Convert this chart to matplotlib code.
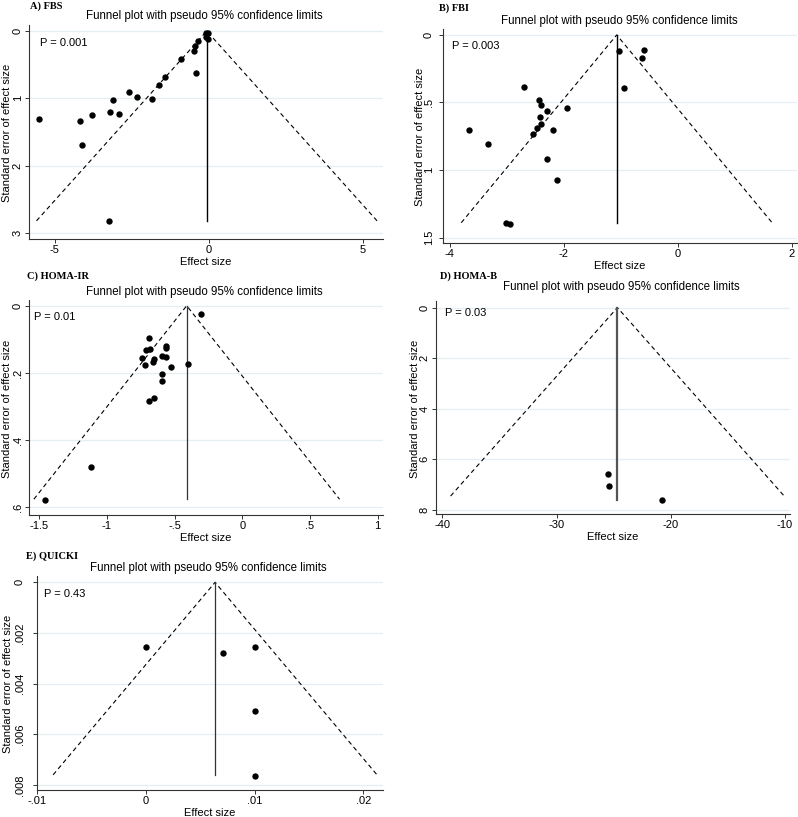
import matplotlib
matplotlib.use("Agg")
import matplotlib.pyplot as plt
import numpy as np

plt.rcParams['font.family'] = ['Liberation Sans', 'DejaVu Sans']

# ---------------- data ----------------
fbs_es = [-5.50, -4.17, -4.12, -3.78, -3.25, -3.20, -3.10, -2.93, -2.58, -2.34, -1.85,
          -1.62, -1.43, -0.92, -0.50, -0.46, -0.41, -0.34, -0.11, -0.03, -0.11, -0.04]
fbs_se = [1.31, 1.33, 1.69, 1.25, 2.82, 1.21, 1.02, 1.23, 0.91, 0.98, 1.01,
          0.80, 0.68, 0.42, 0.29, 0.22, 0.63, 0.15, 0.035, 0.035, 0.094, 0.124]

fbi_es = [-3.66, -3.33, -3.01, -2.94, -2.70, -2.53, -2.47, -2.43, -2.42, -2.40, -2.40,
          -2.29, -2.30, -2.18, -2.11, -1.95, -1.035, -0.95, -0.62, -0.585]
fbi_se = [0.70, 0.81, 1.39, 1.40, 0.385, 0.73, 0.69, 0.48, 0.61, 0.52, 0.66,
          0.565, 0.92, 0.70, 1.07, 0.54, 0.12, 0.395, 0.17, 0.11]

homair_es = [-1.46, -1.12, -0.742, -0.72, -0.713, -0.69, -0.69, -0.68, -0.658, -0.653,
             -0.653, -0.594, -0.592, -0.592, -0.565, -0.562, -0.56, -0.523, -0.404, -0.303]
homair_se = [0.578, 0.479, 0.157, 0.177, 0.132, 0.097, 0.283, 0.129, 0.167, 0.159,
             0.274, 0.149, 0.202, 0.225, 0.154, 0.119, 0.125, 0.182, 0.173, 0.026]

homab_es = [-25.50, -25.38, -20.77]
homab_se = [6.59, 7.04, 7.62]

quicki_es = [0.0, 0.00706, 0.01006, 0.0100, 0.0100]
quicki_se = [0.00255, 0.0028, 0.00255, 0.0051, 0.00765]

# pooled effect (vertical line) and max SE of the funnel
thetas = [-0.07, -1.07, -0.41, -24.67, 0.00635]
se_max = [2.82, 1.39, 0.576, 7.45, 0.0076]
se_vline = [2.82, 1.39, 0.576, 7.62, 0.0076]

panel_labels = ["A) FBS", "B) FBI", "C) HOMA-IR", "D) HOMA-B", "E) QUICKI"]
p_texts = ["P = 0.001", "P = 0.003", "P = 0.01", "P = 0.03", "P = 0.43"]
xticks_list = [[-5, 0, 5], [-4, -2, 0, 2], [-1.5, -1, -0.5, 0, 0.5, 1],
               [-40, -30, -20, -10], [-0.01, 0, 0.01, 0.02]]
yticks_list = [[0, 1, 2, 3], [0, 0.5, 1, 1.5], [0, 0.2, 0.4, 0.6],
               [0, 2, 4, 6, 8], [0, 0.002, 0.004, 0.006, 0.008]]
title = "Funnel plot with pseudo 95% confidence limits"

# ---------------- layout (pixels) ----------------
W, H = 798, 817
fig = plt.figure(figsize=(W / 100, H / 100), dpi=100)
fig.patch.set_facecolor('white')

boxes = [  # left, right, top, bottom
    (29, 383, 25, 239),
    (442.7, 797, 29, 243),
    (29, 383, 300, 515),
    (436, 790, 301, 514),
    (36.7, 383, 576, 790),
]
xlims = [(-5.84, 5.65), (-4.12, 2.09), (-1.575, 1.04), (-40.55, -9.56), (-0.01006, 0.0218)]
ylims = [(3.09, -0.09), (1.54, -0.044), (0.623, -0.017), (8.16, -0.26), (0.0082, -0.00025)]
label_pos = [(30, 6), (439, 8), (27, 276), (440, 276), (26, 556)]
title_pos = [(204, 16), (619, 21), (204, 292), (621, 287), (208, 568)]
p_pos = [(40, 43), (452, 46), (34, 317), (445, 313), (44, 594)]
ylab_x = [7, 420, 7, 415, 8]
ytick_pad = [1.5, 3.5, 1.5, 1.5, 5.5]
vline_color = ['black', 'black', '#333333', '#555555', '#333333']
vline_width = [1.0, 1.0, 0.9, 1.6, 0.9]

ses = [fbs_se, fbi_se, homair_se, homab_se, quicki_se]
ess = [fbs_es, fbi_es, homair_es, homab_es, quicki_es]


def fmt(v):
    s = f"{v:g}"
    if s.startswith("0."):
        s = s[1:]
    elif s.startswith("-0."):
        s = "-" + s[2:]
    return s


def fx(x):
    return x / W


def fy(y):
    return 1 - y / H


grid_color = '#e6eef1'

for i in range(5):
    l, r, t, b = boxes[i]
    ax = fig.add_axes([l / W, 1 - b / H, (r - l) / W, (b - t) / H])
    ax.set_xlim(*xlims[i])
    ax.set_ylim(*ylims[i])
    for s in ['top', 'right']:
        ax.spines[s].set_visible(False)
    for s in ['left', 'bottom']:
        ax.spines[s].set_linewidth(0.8)
        ax.spines[s].set_color('#333333')
    ax.set_xticks(xticks_list[i])
    ax.set_xticklabels([fmt(v) for v in xticks_list[i]])
    ax.set_yticks(yticks_list[i])
    ax.set_yticklabels([fmt(v) for v in yticks_list[i]], rotation=90, va='center')
    ax.tick_params(axis='both', length=3, width=0.7, color='#333333', labelsize=8)
    ax.tick_params(axis='x', pad=1.5)
    ax.tick_params(axis='y', pad=ytick_pad[i])
    for yv in yticks_list[i]:
        ax.axhline(yv, color=grid_color, lw=0.9, zorder=0)

    th = thetas[i]
    sm = se_max[i]
    ax.plot([th - 1.96 * sm, th, th + 1.96 * sm], [sm, 0, sm], color='black',
            lw=0.8, ls=(0, (4, 3)), zorder=2)
    ax.plot([th, th], [0, se_vline[i]], color=vline_color[i], lw=vline_width[i], zorder=2)
    ax.scatter(ess[i], ses[i], s=21, color='black', zorder=3, linewidths=0)

    fig.text(fx(label_pos[i][0]), fy(label_pos[i][1]), panel_labels[i],
             family='Liberation Serif', weight='bold', fontsize=7.5, va='center', ha='left')
    fig.text(fx(title_pos[i][0]), fy(title_pos[i][1]), title, fontsize=8.3,
             ha='center', va='center')
    fig.text(fx(p_pos[i][0]), fy(p_pos[i][1]), p_texts[i], fontsize=8,
             ha='left', va='center')
    fig.text(fx(ylab_x[i]), fy((t + b) / 2 + 1), "Standard error of effect size",
             fontsize=8, rotation=90, ha='center', va='center')
    fig.text(fx((l + r) / 2), fy(b + 23), "Effect size", fontsize=8,
             ha='center', va='center')

fig.savefig("out.png", dpi=100, facecolor='white')
